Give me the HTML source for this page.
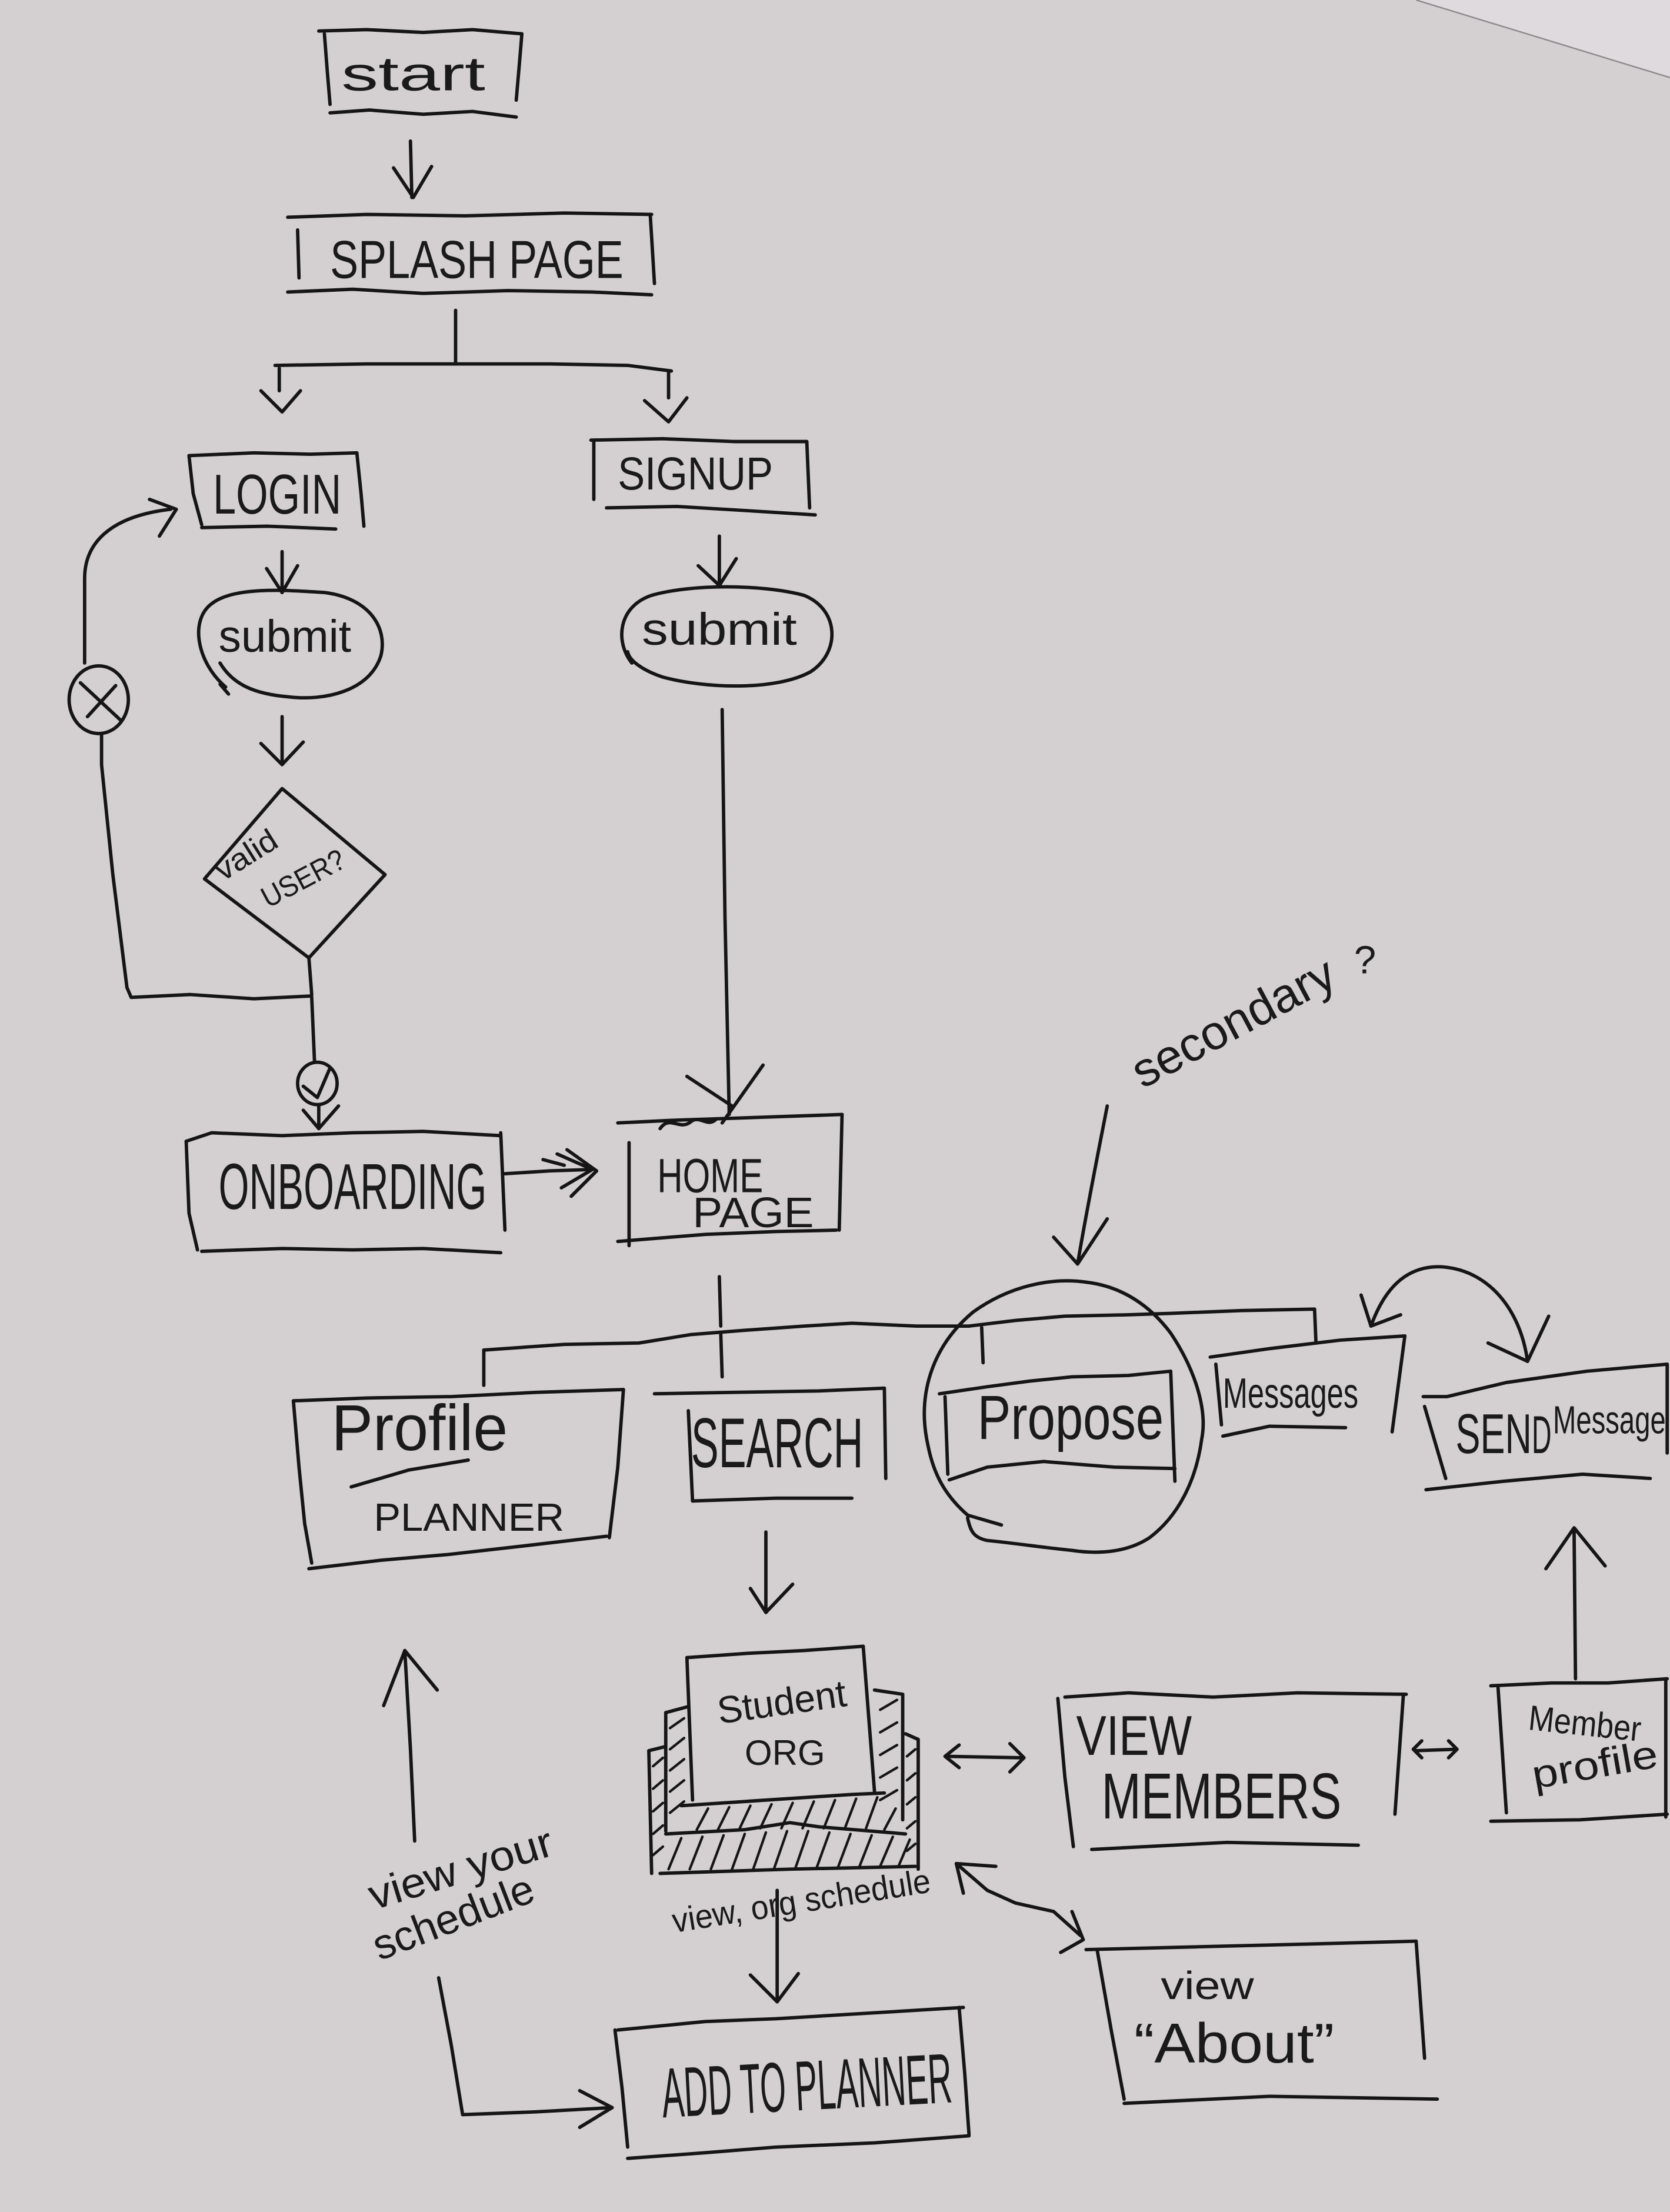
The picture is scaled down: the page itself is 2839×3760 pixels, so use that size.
<!DOCTYPE html>
<html><head><meta charset="utf-8"><style>
html,body{margin:0;padding:0;background:#d4d0d2;}
svg{display:block;}
text{font-family:"Liberation Sans",sans-serif;fill:#1a1a1a;}
</style></head><body>
<svg width="2839" height="3760" viewBox="0 0 1184 1568" preserveAspectRatio="none" xmlns="http://www.w3.org/2000/svg">
<rect x="0" y="0" width="1184" height="1568" fill="#d4d0d2"/>
<polygon points="1004,0 1184,55 1184,0" fill="#dedadd"/>
<line x1="1004" y1="0" x2="1184" y2="55" stroke="#8d898b" stroke-width="1"/>
<g fill="none" stroke="#151515" stroke-width="2.4" stroke-linecap="round" stroke-linejoin="round">
<!-- start -->
<path d="M226,22 L260,21 L300,23 L335,21 L370,24"/>
<path d="M230,24 L232,50 L234,74"/>
<path d="M370,24 L368,48 L366,71"/>
<path d="M234,80 L262,78 L300,81 L335,79 L366,83"/>
<!-- arrow 1 -->
<path d="M291,100 L292,140"/>
<path d="M279,119 L293,140 L306,118"/>
<!-- splash -->
<path d="M204,154 L260,152 L330,153 L400,151 L462,152"/>
<path d="M211,163 L212,197"/>
<path d="M461,152 L464,201"/>
<path d="M204,207 L250,205 L300,208 L360,206 L420,207 L462,209"/>
<!-- branch -->
<path d="M323,220 L323,258"/>
<path d="M195,259 L260,258 L323,258 L390,258 L445,259 L476,263"/>
<path d="M198,261 L198,277"/>
<path d="M185,277 L200,292 L213,277"/>
<path d="M474,263 L474,282"/>
<path d="M457,284 L474,299 L487,282"/>
<!-- login -->
<path d="M134,323 L180,321 L220,322 L253,321"/>
<path d="M134,323 L137,350 L143,372"/>
<path d="M253,321 L256,350 L258,373"/>
<path d="M143,374 L190,373 L238,375"/>
<!-- signup -->
<path d="M419,312 L470,311 L520,313 L572,313"/>
<path d="M421,313 L421,354"/>
<path d="M572,313 L574,360"/>
<path d="M430,360 L480,359 L530,362 L578,365"/>
<!-- arrows to submit -->
<path d="M200,391 L200,420"/>
<path d="M189,403 L200,420 L211,401"/>
<path d="M510,380 L510,415"/>
<path d="M495,401 L510,415 L522,396"/>
<!-- submit ellipses -->
<path d="M160,487 C140,470 134,440 150,428 C165,416 200,418 230,420 C262,424 275,445 270,465 C262,490 230,497 205,494 C180,492 165,485 156,470"/>
<path d="M156,485 L162,492"/>
<path d="M448,470 C436,455 438,430 462,422 C490,414 540,414 570,422 C595,432 596,462 575,476 C550,490 500,488 470,480 C455,475 446,468 445,462"/>
<!-- arrow to diamond -->
<path d="M200,508 L200,542"/>
<path d="M185,527 L200,542 L215,526"/>
<!-- diamond -->
<path d="M200,559 L145,623 L219,679 L273,620 Z"/>
<!-- loop back -->
<path d="M219,679 L221,705"/>
<path d="M221,706 L180,708 L135,705 L93,707 L90,700 L80,620 L72,542 L72,520"/>
<ellipse cx="70" cy="496" rx="21" ry="24"/>
<path d="M57,484 L85,510"/>
<path d="M82,486 L62,508"/>
<path d="M60,470 L60,410 C60,385 78,366 121,361"/>
<path d="M106,354 L125,361 L113,380"/>
<!-- to onboarding -->
<path d="M221,707 L223,753"/>
<ellipse cx="225" cy="768" rx="14" ry="15"/>
<path d="M215,770 L225,778 L234,757"/>
<path d="M226,783 L226,800"/>
<path d="M215,787 L226,800 L240,784"/>
<!-- onboarding box -->
<path d="M132,809 L150,803 L200,805 L250,803 L300,802 L355,805"/>
<path d="M132,809 L134,860 L140,886"/>
<path d="M355,803 L358,872"/>
<path d="M143,887 L200,885 L250,886 L300,885 L355,888"/>
<!-- onboarding -> home -->
<path d="M358,832 L390,830 L420,829"/>
<path d="M395,818 L420,829 L398,842"/>
<path d="M402,815 L423,830 L405,848"/>
<path d="M385,822 L400,826"/>
<!-- submit -> home -->
<path d="M512,503 L514,650 L517,790"/>
<path d="M487,763 L519,784"/>
<path d="M541,755 L512,796"/>
<path d="M468,800 C475,790 482,802 490,795 C496,790 502,800 508,793"/>
<!-- home box -->
<path d="M438,796 L480,794 L540,792 L597,790"/>
<path d="M446,810 L446,883"/>
<path d="M597,790 L595,872"/>
<path d="M438,880 L500,875 L550,873 L593,872"/>
<!-- dashed line from home -->
<path d="M510,905 L511,940"/>
<path d="M511,945 L512,976"/>
<!-- main branch -->
<path d="M343,957 L400,953 L453,952 L490,946 L528,943 L570,940 L604,938 L650,940 L687,940 L720,936 L755,933 L800,932 L830,931 L880,929 L932,928"/>
<path d="M343,957 L343,982"/>
<path d="M696,941 L697,966"/>
<path d="M932,928 L933,952"/>
<!-- profile box -->
<path d="M208,993 L260,991 L320,990 L380,987 L442,985"/>
<path d="M208,993 L212,1040 L216,1080 L221,1108"/>
<path d="M442,985 L438,1040 L432,1090"/>
<path d="M219,1112 L270,1106 L317,1102 L370,1096 L430,1089"/>
<path d="M249,1054 L290,1042 L332,1035"/>
<!-- search box -->
<path d="M464,988 L520,987 L580,986 L627,984"/>
<path d="M488,1000 L491,1064"/>
<path d="M627,984 L628,1048"/>
<path d="M491,1064 L550,1062 L604,1062"/>
<!-- propose box -->
<path d="M666,988 L700,983 L730,979 L760,976 L800,975 L830,972"/>
<path d="M670,990 L672,1045"/>
<path d="M830,972 L833,1050"/>
<path d="M673,1049 L700,1040 L740,1036 L790,1040 L833,1041"/>
<!-- propose circle -->
<path d="M686,1074 C670,1060 662,1045 658,1025 C650,990 660,955 690,930 C715,912 745,905 771,909 C795,912 815,925 830,945 C848,972 856,1000 852,1020 C848,1050 835,1075 815,1090 C800,1100 780,1102 760,1099 C740,1097 720,1094 700,1092 C690,1090 688,1085 686,1076"/>
<path d="M686,1074 L710,1081"/>
<!-- secondary arrow -->
<path d="M785,784 C778,820 770,860 764,896"/>
<path d="M747,877 L764,896 L785,864"/>
<!-- messages box -->
<path d="M858,962 L900,956 L950,950 L996,947"/>
<path d="M862,967 L866,1010"/>
<path d="M996,947 L987,1015"/>
<path d="M867,1018 L900,1011 L954,1012"/>
<!-- arc arrow messages <-> send -->
<path d="M972,940 C982,912 998,897 1022,898 C1055,900 1078,928 1083,965"/>
<path d="M965,918 L972,940 L993,932"/>
<path d="M1055,952 L1083,965 L1098,933"/>
<!-- send box -->
<path d="M1009,990 L1026,990 L1068,980 L1125,972 L1182,967"/>
<path d="M1010,997 L1025,1048"/>
<path d="M1182,967 L1182,1030"/>
<path d="M1011,1056 L1066,1050 L1122,1045 L1170,1048"/>
<!-- up arrow to send -->
<path d="M1117,1190 L1116,1085"/>
<path d="M1096,1112 L1116,1083 L1138,1110"/>
<!-- search down arrow -->
<path d="M543,1086 L543,1143"/>
<path d="M532,1126 L543,1143 L562,1123"/>
<!-- student org stack -->
<path d="M487,1175 L530,1172 L570,1170 L612,1167"/>
<path d="M487,1175 L491,1276"/>
<path d="M612,1167 L620,1270"/>
<path d="M472,1214 L487,1210"/>
<path d="M472,1214 L472,1298"/>
<path d="M620,1198 L640,1201 L640,1290"/>
<path d="M460,1241 L472,1238"/>
<path d="M460,1241 L462,1328"/>
<path d="M642,1229 L651,1233 L651,1325"/>
<path d="M483,1280 L528,1277 L604,1272 L627,1271"/>
<path d="M472,1300 L528,1297 L560,1292 L581,1295 L642,1300"/>
<path d="M468,1328 L560,1325 L649,1323"/>
</g>
<g fill="none" stroke="#151515" stroke-width="1.8" stroke-linecap="round">
<path d="M494,1297 L502,1282 M509,1297 L517,1281 M524,1297 L532,1280 M539,1296 L547,1279 M554,1296 L562,1278 M569,1296 L577,1277 M584,1296 L592,1276 M599,1296 L607,1275 M614,1296 L622,1274 M627,1297 L635,1282"/>
<path d="M474,1325 L483,1303 M489,1325 L498,1302 M504,1325 L513,1301 M519,1325 L528,1300 M534,1325 L543,1299 M549,1324 L558,1298 M564,1324 L573,1298 M579,1324 L588,1299 M594,1324 L603,1300 M609,1324 L618,1301 M624,1323 L633,1302 M637,1323 L645,1304"/>
<path d="M475,1225 L485,1218 M475,1240 L485,1232 M475,1255 L485,1247 M475,1270 L485,1262 M475,1285 L485,1277"/>
<path d="M463,1252 L470,1246 M463,1268 L470,1262 M463,1284 L470,1278 M463,1300 L470,1294 M463,1315 L470,1309"/>
<path d="M624,1212 L636,1205 M624,1228 L636,1221 M624,1244 L636,1237 M624,1260 L636,1253 M624,1276 L636,1269"/>
<path d="M643,1245 L649,1240 M643,1262 L649,1257 M643,1279 L649,1274 M643,1296 L649,1291 M643,1312 L649,1307"/>
</g>
<g fill="none" stroke="#151515" stroke-width="2.4" stroke-linecap="round" stroke-linejoin="round">
<!-- org <-> members -->
<path d="M672,1245 L724,1246"/>
<path d="M680,1237 L670,1245 L680,1253"/>
<path d="M716,1236 L726,1246 L716,1256"/>
<!-- members box -->
<path d="M755,1203 L800,1200 L860,1203 L920,1200 L997,1201"/>
<path d="M750,1204 L755,1260 L761,1309"/>
<path d="M995,1201 L989,1286"/>
<path d="M774,1311 L870,1306 L963,1308"/>
<!-- members <-> member profile -->
<path d="M1004,1241 L1032,1240"/>
<path d="M1008,1234 L1002,1240 L1008,1246"/>
<path d="M1027,1234 L1033,1240 L1027,1246"/>
<!-- member profile box -->
<path d="M1057,1195 L1100,1193 L1140,1193 L1182,1190"/>
<path d="M1062,1195 L1068,1285"/>
<path d="M1181,1190 L1181,1288"/>
<path d="M1057,1291 L1120,1290 L1182,1286"/>
<!-- left up arrow -->
<path d="M294,1305 L291,1240 L287,1170"/>
<path d="M272,1209 L287,1170 L310,1198"/>
<!-- lower path to add -->
<path d="M311,1402 L320,1450 L328,1499 L380,1497 L434,1494"/>
<path d="M411,1482 L434,1494 L411,1508"/>
<!-- org -> add arrow -->
<path d="M551,1340 L551,1419"/>
<path d="M532,1400 L551,1419 L566,1399"/>
<!-- add box -->
<path d="M438,1439 L500,1433 L550,1431 L600,1428 L683,1423"/>
<path d="M436,1439 L441,1480 L445,1522"/>
<path d="M680,1423 L684,1470 L687,1513"/>
<path d="M445,1530 L500,1526 L550,1522 L620,1519 L687,1514"/>
<!-- org <-> about -->
<path d="M678,1321 L700,1340 L720,1349 L747,1355 L766,1372"/>
<path d="M706,1323 L678,1321 L683,1342"/>
<path d="M752,1384 L768,1375 L760,1355"/>
<!-- about box -->
<path d="M770,1382 L850,1380 L930,1378 L1004,1376"/>
<path d="M778,1383 L788,1440 L797,1488"/>
<path d="M1004,1376 L1010,1459"/>
<path d="M797,1491 L900,1486 L1019,1488"/>
</g>
<!-- TEXT -->
<text x="242" y="64" font-size="34" textLength="102" lengthAdjust="spacingAndGlyphs">start</text>
<text x="234" y="197" font-size="38" textLength="208" lengthAdjust="spacingAndGlyphs">SPLASH PAGE</text>
<text x="151" y="364" font-size="40" textLength="91" lengthAdjust="spacingAndGlyphs">LOGIN</text>
<text x="438" y="347" font-size="33" textLength="110" lengthAdjust="spacingAndGlyphs">SIGNUP</text>
<text x="155" y="462" font-size="32" textLength="94" lengthAdjust="spacingAndGlyphs">submit</text>
<text x="455" y="457" font-size="32" textLength="110" lengthAdjust="spacingAndGlyphs">submit</text>
<text x="0" y="0" font-size="22" textLength="48" lengthAdjust="spacingAndGlyphs" transform="translate(158,625) rotate(-32)">valid</text>
<text x="0" y="0" font-size="21" textLength="64" lengthAdjust="spacingAndGlyphs" transform="translate(190,644) rotate(-28)">USER?</text>
<text x="155" y="857" font-size="46" textLength="190" lengthAdjust="spacingAndGlyphs">ONBOARDING</text>
<text x="466" y="845" font-size="34" textLength="75" lengthAdjust="spacingAndGlyphs">HOME</text>
<text x="491" y="870" font-size="30" textLength="86" lengthAdjust="spacingAndGlyphs">PAGE</text>
<text x="0" y="0" font-size="34" textLength="158" lengthAdjust="spacingAndGlyphs" transform="translate(810,772) rotate(-28)">secondary</text>
<text x="960" y="690" font-size="28">?</text>
<text x="235" y="1028" font-size="46" textLength="125" lengthAdjust="spacingAndGlyphs">Profile</text>
<text x="265" y="1085" font-size="28" textLength="135" lengthAdjust="spacingAndGlyphs">PLANNER</text>
<text x="490" y="1040" font-size="50" textLength="122" lengthAdjust="spacingAndGlyphs">SEARCH</text>
<text x="693" y="1020" font-size="44" textLength="132" lengthAdjust="spacingAndGlyphs">Propose</text>
<text x="867" y="998" font-size="30" textLength="96" lengthAdjust="spacingAndGlyphs">Messages</text>
<text x="1032" y="1030" font-size="40" textLength="54" lengthAdjust="spacingAndGlyphs">SEN</text>
<text x="1086" y="1030" font-size="38" textLength="14" lengthAdjust="spacingAndGlyphs">D</text>
<text x="1101" y="1016" font-size="28" textLength="80" lengthAdjust="spacingAndGlyphs">Message</text>
<text x="0" y="0" font-size="27" textLength="92" lengthAdjust="spacingAndGlyphs" transform="translate(510,1222) rotate(-8)">Student</text>
<text x="528" y="1251" font-size="25" textLength="57" lengthAdjust="spacingAndGlyphs">ORG</text>
<text x="763" y="1244" font-size="40" textLength="82" lengthAdjust="spacingAndGlyphs">VIEW</text>
<text x="781" y="1289" font-size="46" textLength="170" lengthAdjust="spacingAndGlyphs">MEMBERS</text>
<text x="0" y="0" font-size="25" textLength="80" lengthAdjust="spacingAndGlyphs" transform="translate(1083,1226) rotate(6)">Member</text>
<text x="0" y="0" font-size="28" textLength="90" lengthAdjust="spacingAndGlyphs" transform="translate(1088,1268) rotate(-10)">profile</text>
<text x="0" y="0" font-size="30" textLength="135" lengthAdjust="spacingAndGlyphs" transform="translate(265,1354) rotate(-17)">view your</text>
<text x="0" y="0" font-size="30" textLength="120" lengthAdjust="spacingAndGlyphs" transform="translate(269,1390) rotate(-21)">schedule</text>
<text x="0" y="0" font-size="24" textLength="185" lengthAdjust="spacingAndGlyphs" transform="translate(478,1370) rotate(-9)">view, org schedule</text>
<text x="0" y="0" font-size="50" textLength="206" lengthAdjust="spacingAndGlyphs" transform="translate(470,1501) rotate(-3)">ADD TO PLANNER</text>
<text x="823" y="1417" font-size="28" textLength="66" lengthAdjust="spacingAndGlyphs">view</text>
<text x="804" y="1462" font-size="40" textLength="142" lengthAdjust="spacingAndGlyphs">“About”</text>
</svg>
</body></html>
